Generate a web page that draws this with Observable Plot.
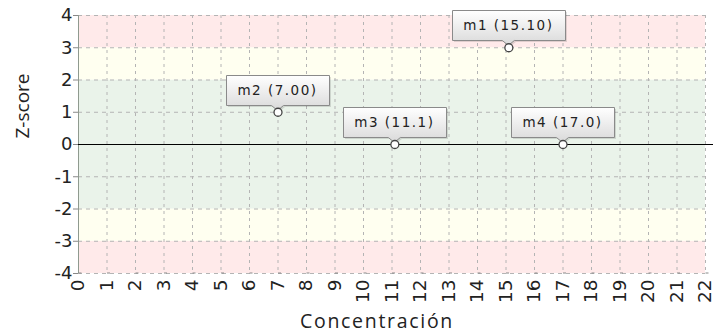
<!DOCTYPE html>
<html>
<head>
<meta charset="utf-8">
<script src="https://cdn.jsdelivr.net/npm/d3@7"></script>
<script src="https://cdn.jsdelivr.net/npm/@observablehq/plot@0.6"></script>
<style>
  body { margin: 0; background: #fff; }
  #chart svg { display: block; }
  .callout text { letter-spacing: 1.5px; }
  .axtitle text { letter-spacing: 1.7px; }
</style>
</head>
<body>
<div id="chart"></div>
<script>
// ---- data ----
const sampleNames = ["m1", "m2", "m3", "m4"];
const sampleConc = [15.1, 7.0, 11.1, 17.0];
const sampleZ = [3, 1, 0, 0];
const sampleNote = ["15.10", "7.00", "11.1", "17.0"];

const xTicks = [0, 1, 2, 3, 4, 5, 6, 7, 8, 9, 10, 11, 12, 13, 14, 15, 16, 17, 18, 19, 20, 21, 22];
const yTicks = [-4, -3, -2, -1, 0, 1, 2, 3, 4];

const bandFrom = [-4, -3, -2, 2, 3];
const bandTo = [-3, -2, 2, 3, 4];
const bandZone = ["alarm", "warn", "ok", "warn", "alarm"];

const xTitle = "Concentración";
const yTitle = "Z-score";

// ---- tables built from arrays ----
const points = sampleNames.map((n, i) => ({name: n, x: sampleConc[i], z: sampleZ[i], note: sampleNote[i]}));
const bands = bandFrom.map((f, i) => ({from: f, to: bandTo[i], zone: bandZone[i]}));

// custom callout boxes positioned through Plot's scales
function callouts(index, scales, values, dimensions, context) {
  const g = d3.create("svg:g").attr("class", "callout");
  const defs = g.append("defs");
  const grad = defs.append("linearGradient").attr("id", "calloutGrad")
    .attr("x1", 0).attr("y1", 0).attr("x2", 0).attr("y2", 1);
  grad.append("stop").attr("offset", "0%").attr("stop-color", "#ffffff");
  grad.append("stop").attr("offset", "100%").attr("stop-color", "#d9d9d9");
  const ctx = document.createElement("canvas").getContext("2d");
  const fs = 13.5;
  ctx.font = `${fs}px "DejaVu Sans"`;
  points.forEach(d => {
    const px = scales.x(d.x), py = scales.y(d.z);
    const label = `${d.name} (${d.note})`;
    const tw = ctx.measureText(label).width + 1.5 * (label.length - 1);
    const w = Math.round(tw + 24), h = 30, gap = 7, pw = 6;
    const bx = Math.round(px - w / 2) + 0.5, by = Math.round(py - gap - h) + 0.5;
    const path = `M${bx},${by}H${bx + w}V${by + h}H${px + pw}L${px},${by + h + 5}L${px - pw},${by + h}H${bx}Z`;
    g.append("path").attr("d", path).attr("transform", "translate(1.5,1.5)")
      .attr("fill", "rgba(0,0,0,0.12)");
    g.append("path").attr("d", path).attr("fill", "url(#calloutGrad)")
      .attr("stroke", "#8a8a8a").attr("stroke-width", 1);
    g.append("text").attr("x", px).attr("y", by + h / 2)
      .attr("dy", "0.35em").attr("text-anchor", "middle")
      .attr("font-family", "DejaVu Sans").attr("font-size", fs)
      .attr("fill", "#222").text(label);
  });
  return g.node();
}

const chart = Plot.plot({
  width: 724,
  height: 333,
  marginLeft: 78,
  marginRight: 19,
  marginTop: 15,
  marginBottom: 60,
  style: {fontFamily: "DejaVu Sans", color: "#222", background: "#fff"},
  x: {domain: [xTicks[0], xTicks[xTicks.length - 1]]},
  y: {domain: [yTicks[0], yTicks[yTicks.length - 1]]},
  color: {domain: ["alarm", "warn", "ok"], range: ["#ffeaea", "#fffff0", "#eaf3ea"]},
  marks: [
    Plot.rect(bands, {y1: "from", y2: "to", fill: "zone"}),
    Plot.gridX(xTicks, {stroke: "#b4b4b4", strokeOpacity: 1, strokeDasharray: "3,4"}),
    Plot.gridY(yTicks, {stroke: "#b4b4b4", strokeOpacity: 1, strokeDasharray: "4,4"}),
    Plot.ruleX([xTicks[0]], {stroke: "#8f9a8f"}),
    Plot.ruleY([0], {stroke: "#000", insetRight: -8}),
    Plot.axisY(yTicks, {tickSize: 5, tickPadding: 1, fontSize: 18, stroke: "#888", label: null, tickFormat: d => String(d)}),
    Plot.axisX(xTicks, {tickSize: 3, tickPadding: 3, fontSize: 18.5, rotate: -90, textAnchor: "end", lineAnchor: "middle", stroke: "#888", label: null}),
    Plot.text([xTitle], {frameAnchor: "bottom", dx: -15, dy: 54, fontSize: 19.5, fontFamily: "Open Sans", fill: "#222", className: "axtitle"}),
    Plot.text([yTitle], {frameAnchor: "left", rotate: -90, dx: -56, dy: -6, fontSize: 19, fontFamily: "Open Sans", fill: "#222"}),
    callouts,
    Plot.dot(points, {x: "x", y: "z", r: 4, fill: "#fff", stroke: "#444", strokeWidth: 1.3})
  ]
});
document.getElementById("chart").appendChild(chart);
</script>
</body>
</html>
